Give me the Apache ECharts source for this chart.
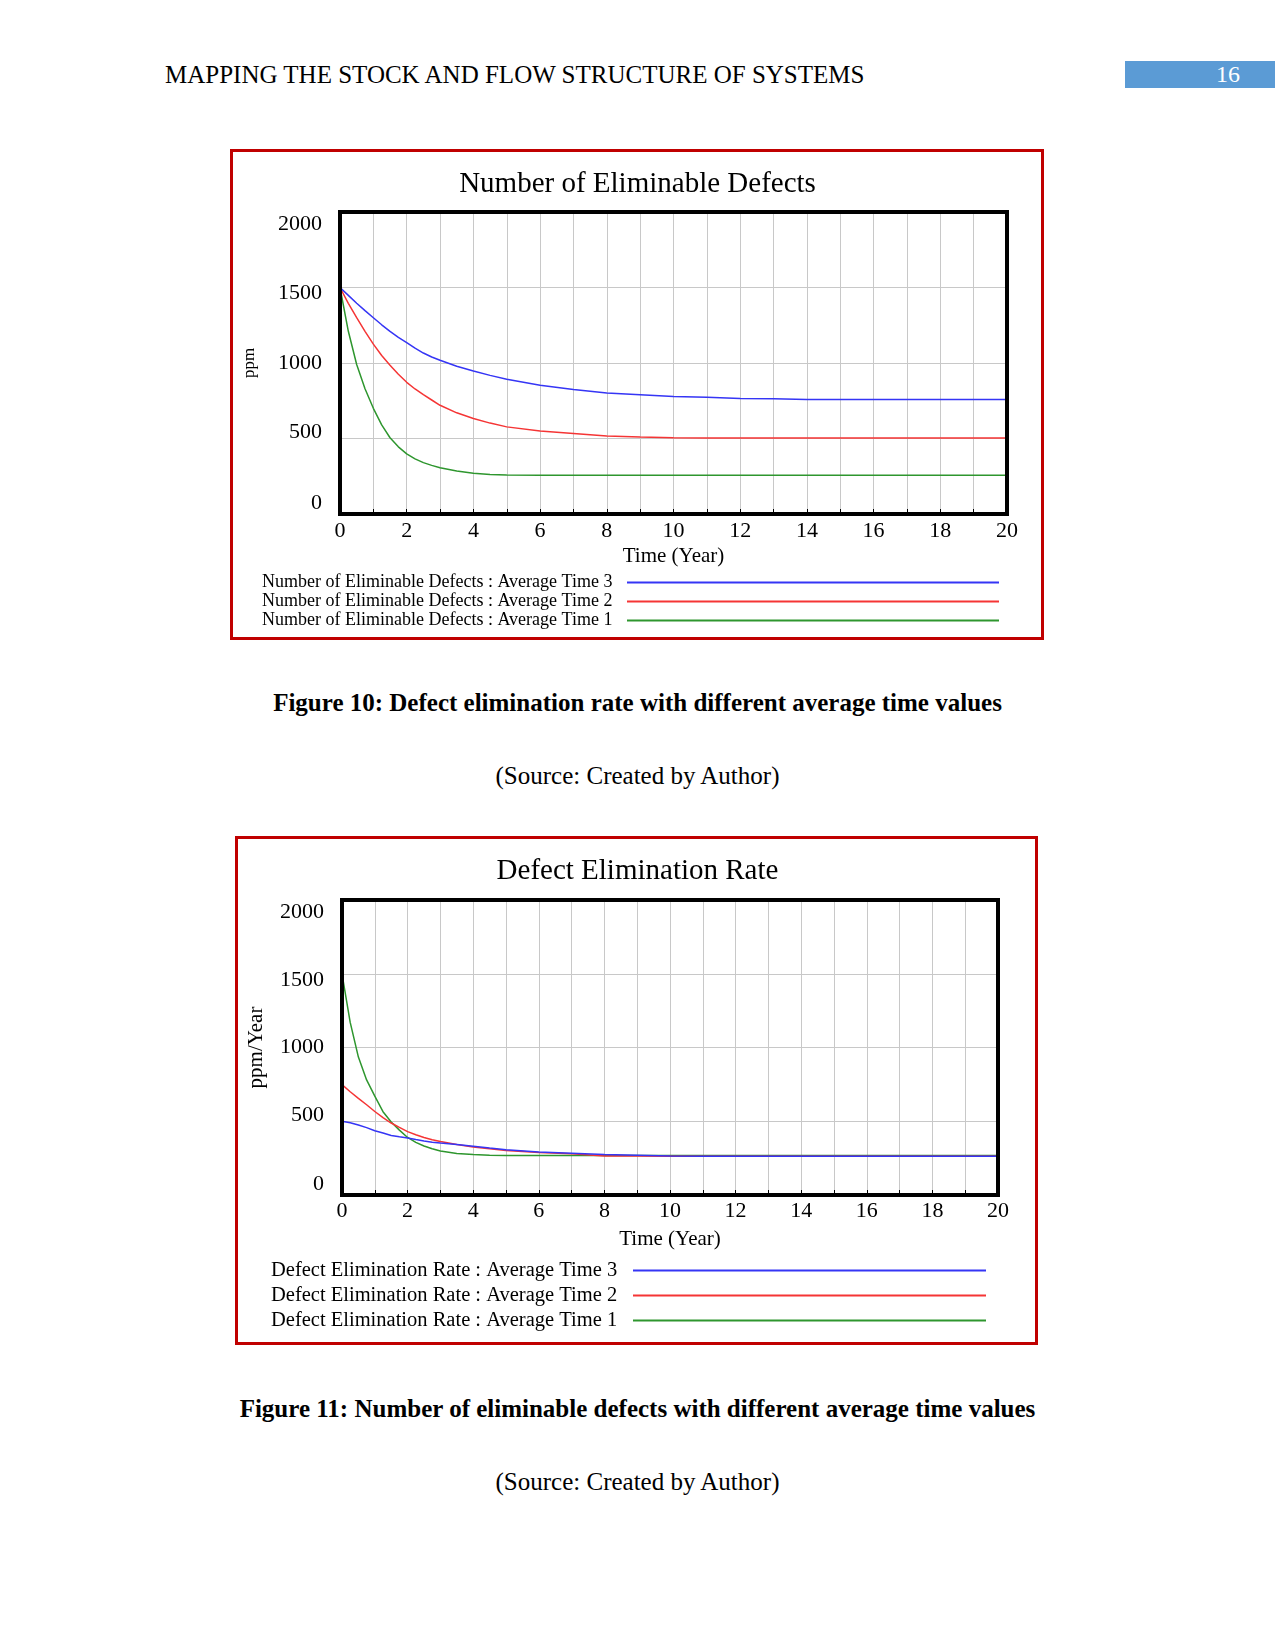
<!DOCTYPE html>
<html>
<head>
<meta charset="utf-8">
<script src="https://cdn.jsdelivr.net/npm/echarts@6/dist/echarts.min.js"></script>
<style>
  html, body { margin: 0; padding: 0; background: #fff; }
  #page { position: relative; width: 1275px; height: 1650px; overflow: hidden; font-family: 'Liberation Serif', 'Times New Roman', serif; }
  .txt { position: absolute; white-space: nowrap; color: #000; }
  .box { position: absolute; border: 3px solid #C00000; box-sizing: border-box; background: #fff; }
  #chart { position: absolute; left: 0; top: 0; width: 1275px; height: 1650px; }
</style>
</head>
<body>
<div id="page">
  <div class="txt" style="left:165px; top:60px; font-size:25px; line-height:30px;">MAPPING THE STOCK AND FLOW STRUCTURE OF SYSTEMS</div>
  <div style="position:absolute; left:1125px; top:61px; width:150px; height:27px; background:#5B9BD5;"></div>
  <div class="txt" style="left:1178px; top:61px; width:100px; text-align:center; font-size:24px; line-height:27px; color:#fff;">16</div>
  <div class="box" style="left:230px; top:149px; width:814px; height:491px;"></div>
  <div class="box" style="left:235px; top:836px; width:803px; height:509px;"></div>
  <div class="txt" style="left:0; width:1275px; text-align:center; top:688px; font-size:25px; line-height:30px; font-weight:bold;">Figure 10: Defect elimination rate with different average time values</div>
  <div class="txt" style="left:0; width:1275px; text-align:center; top:761px; font-size:25px; line-height:30px;">(Source: Created by Author)</div>
  <div class="txt" style="left:0; width:1275px; text-align:center; top:1394px; font-size:25px; line-height:30px; font-weight:bold;">Figure 11: Number of eliminable defects with different average time values</div>
  <div class="txt" style="left:0; width:1275px; text-align:center; top:1467px; font-size:25px; line-height:30px;">(Source: Created by Author)</div>
  <div id="chart"></div>
</div>
<script>
// ---- Data ----
const years = [0, 0.25, 0.5, 0.75, 1, 1.25, 1.5, 1.75, 2, 2.25, 2.5, 2.75, 3, 3.5, 4, 4.5, 5, 6, 7, 8, 9, 10, 11, 12, 13, 14, 15, 16, 17, 18, 19, 20];
const xTicks = [0, 2, 4, 6, 8, 10, 12, 14, 16, 18, 20];
const yTicks = [0, 500, 1000, 1500, 2000];

// Chart 1: Number of Eliminable Defects (ppm)
const defectsAvg3 = [1500, 1448, 1396, 1347, 1300, 1253, 1209, 1170, 1135, 1098, 1066, 1040, 1018, 978, 947, 918, 893, 853, 825, 802, 790, 778, 773, 765, 764, 758, 758, 758, 758, 758, 758, 758];
const defectsAvg2 = [1500, 1395, 1300, 1210, 1125, 1050, 985, 925, 872, 828, 790, 755, 720, 670, 633, 602, 577, 549, 533, 516, 510, 505, 503, 503, 503, 503, 503, 503, 503, 503, 503, 503];
const defectsAvg1 = [1500, 1210, 990, 830, 700, 590, 505, 445, 398, 365, 340, 322, 306, 285, 270, 262, 258, 257, 257, 257, 257, 257, 257, 257, 257, 257, 257, 257, 257, 257, 257, 257];

// Chart 2: Defect Elimination Rate (ppm/Year)
const rateAvg3 = [500, 490, 475, 457, 436, 420, 404, 395, 387, 376, 366, 358, 352, 342, 331, 318, 307, 292, 283, 274, 270, 264, 263, 263, 263, 263, 263, 263, 263, 263, 263, 263];
const rateAvg2 = [748, 700, 655, 612, 566, 525, 488, 458, 430, 408, 390, 375, 362, 343, 326, 313, 302, 288, 279, 265, 264, 263, 263, 263, 263, 263, 263, 263, 263, 263, 263, 263];
const rateAvg1 = [1500, 1170, 935, 780, 670, 565, 495, 440, 390, 357, 332, 313, 298, 282, 274, 270, 268, 267, 267, 267, 267, 267, 267, 267, 267, 267, 267, 267, 267, 267, 267, 267];

const names1 = ['Number of Eliminable Defects : Average Time 3', 'Number of Eliminable Defects : Average Time 2', 'Number of Eliminable Defects : Average Time 1'];
const names2 = ['Defect Elimination Rate : Average Time 3', 'Defect Elimination Rate : Average Time 2', 'Defect Elimination Rate : Average Time 1'];
const colors = { a3: '#3535F5', a2: '#F53535', a1: '#2E962E' };

const FONT = 'Liberation Serif';
const pair = (arr) => years.map((t, i) => [t, arr[i]]);

// vertical nudges of y tick labels (Vensim-style placement)
const yRich = {
  l2000: { fontFamily: FONT, fontSize: 22, color: '#000', padding: [25, 0, 0, 0] },
  l1500: { fontFamily: FONT, fontSize: 22, color: '#000', padding: [12, 0, 0, 0] },
  l1000: { fontFamily: FONT, fontSize: 22, color: '#000', padding: [0, 0, 0, 0] },
  l500:  { fontFamily: FONT, fontSize: 22, color: '#000', padding: [0, 0, 12, 0] },
  l0:    { fontFamily: FONT, fontSize: 22, color: '#000', padding: [0, 0, 22, 0] }
};

function xAxis(gridIndex, nameGap, margin) {
  return {
    type: 'value', gridIndex, min: 0, max: 20, interval: 1,
    name: 'Time (Year)', nameLocation: 'middle', nameGap,
    nameTextStyle: { fontFamily: FONT, fontSize: 21, color: '#000' },
    axisLine: { show: false },
    axisTick: { show: true, inside: true, length: 5, lineStyle: { color: '#000', width: 1 } },
    axisLabel: { fontFamily: FONT, fontSize: 22, color: '#000', margin,
      formatter: v => xTicks.indexOf(v) >= 0 ? String(v) : '' },
    splitLine: { show: true, lineStyle: { color: '#C8C8C8', width: 1 } }
  };
}
function yAxis(gridIndex, name, nameGap, nameSize) {
  return {
    type: 'value', gridIndex, min: 0, max: 2000, interval: 500,
    name, nameLocation: 'middle', nameGap, nameRotate: 90,
    nameTextStyle: { fontFamily: FONT, fontSize: nameSize, color: '#000' },
    axisLine: { show: false },
    axisTick: { show: false },
    axisLabel: { fontFamily: FONT, fontSize: 22, color: '#000', margin: 18, rich: yRich,
      formatter: v => yTicks.indexOf(v) >= 0 ? '{l' + v + '|' + v + '}' : '' },
    splitLine: { show: true, lineStyle: { color: '#C8C8C8', width: 1 } }
  };
}
function line(name, data, color, xi) {
  return { type: 'line', name, xAxisIndex: xi, yAxisIndex: xi, data, showSymbol: false, symbol: 'none',
    lineStyle: { color, width: 1.5 }, itemStyle: { color }, animation: false, z: 3 };
}
function legend(names, left, top, iconW, textW, fontSize, lh) {
  return {
    orient: 'vertical', left, top, align: 'right', icon: 'rect', itemWidth: iconW, itemHeight: 2, itemGap: 0,
    selectedMode: false, data: names,
    formatter: n => '{t|' + n + '}',
    textStyle: { fontFamily: FONT, fontSize, color: '#000', lineHeight: lh,
      rich: { t: { width: textW, align: 'left', fontFamily: FONT, fontSize, color: '#000', lineHeight: lh } } }
  };
}

const chart = echarts.init(document.getElementById('chart'), null, { renderer: 'canvas' });
chart.setOption({
  animation: false,
  backgroundColor: 'transparent',
  title: [
    { text: 'Number of Eliminable Defects', left: 'center', top: 165,
      textStyle: { fontFamily: FONT, fontSize: 29, fontWeight: 'normal', color: '#000' } },
    { text: 'Defect Elimination Rate', left: 'center', top: 852,
      textStyle: { fontFamily: FONT, fontSize: 29, fontWeight: 'normal', color: '#000' } }
  ],
  grid: [
    { left: 340, top: 212, width: 667, height: 302, show: true, borderColor: '#000', borderWidth: 4, z: 5 },
    { left: 342, top: 900, width: 656, height: 295, show: true, borderColor: '#000', borderWidth: 4, z: 5 }
  ],
  xAxis: [xAxis(0, 32, 6), xAxis(1, 34, 5)],
  yAxis: [yAxis(0, 'ppm', 82, 17), yAxis(1, 'ppm/Year', 75, 21)],
  legend: [
    legend(names1, 257, 568, 372, 360, 18, 19),
    legend(names2, 266, 1253, 353, 357, 20.5, 25)
  ],
  series: [
    line(names1[2], pair(defectsAvg1), colors.a1, 0),
    line(names1[1], pair(defectsAvg2), colors.a2, 0),
    line(names1[0], pair(defectsAvg3), colors.a3, 0),
    line(names2[2], pair(rateAvg1), colors.a1, 1),
    line(names2[1], pair(rateAvg2), colors.a2, 1),
    line(names2[0], pair(rateAvg3), colors.a3, 1)
  ]
});
</script>
</body>
</html>
